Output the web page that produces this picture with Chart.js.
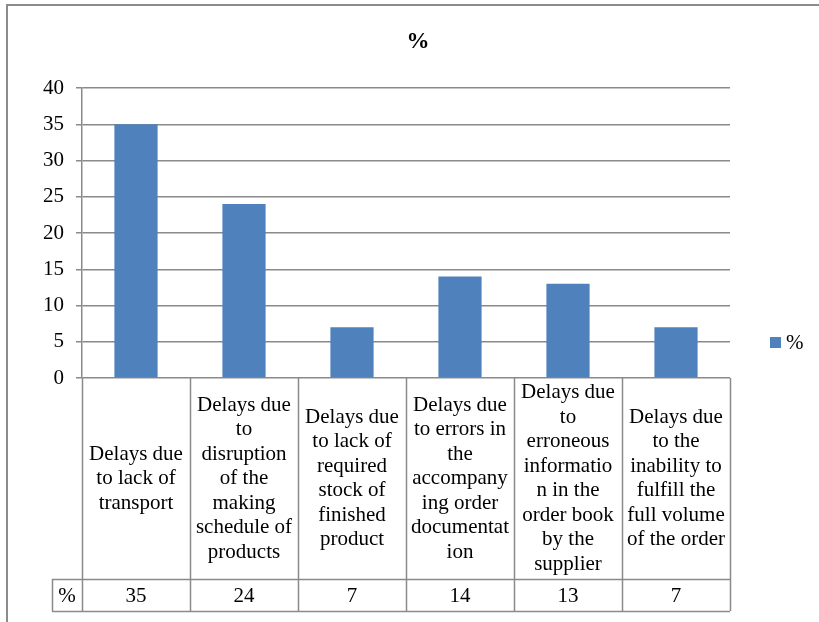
<!DOCTYPE html>
<html>
<head>
<meta charset="utf-8">
<script src="https://cdn.jsdelivr.net/npm/chart.js@4.4.1/dist/chart.umd.min.js"></script>
<style>
  html, body { margin: 0; padding: 0; background: #ffffff; }
  #wrap { width: 819px; height: 622px; position: relative; }
</style>
</head>
<body>
<div id="wrap"><canvas id="c" width="819" height="622"></canvas></div>
<script>
// ---- data ----
const categories = [
  ["Delays due", "to lack of", "transport"],
  ["Delays due", "to", "disruption", "of the", "making", "schedule of", "products"],
  ["Delays due", "to lack of", "required", "stock of", "finished", "product"],
  ["Delays due", "to errors in", "the", "accompany", "ing order", "documentat", "ion"],
  ["Delays due", "to", "erroneous", "informatio", "n in the", "order book", "by the", "supplier"],
  ["Delays due", "to the", "inability to", "fulfill the", "full volume", "of the order"]
];
const seriesName = "%";
const values = [35, 24, 7, 14, 13, 7];
const yTicks = [0, 5, 10, 15, 20, 25, 30, 35, 40];
const chartTitle = "%";

const FONT = "'Liberation Serif', 'Times New Roman', serif";
const BAR = "#4F81BD";
const GRID = "#8a8a8a";

const tablePlugin = {
  id: 'tablePlugin',
  beforeDraw(chart) {
    const ctx = chart.ctx;
    ctx.save();
    ctx.fillStyle = '#ffffff';
    ctx.fillRect(0, 0, chart.width, chart.height);
    ctx.strokeStyle = '#8c8c8c';
    ctx.lineWidth = 2;
    ctx.beginPath();
    ctx.moveTo(7, chart.height + 2);
    ctx.lineTo(7, 5);
    ctx.lineTo(chart.width + 2, 5);
    ctx.stroke();
    ctx.restore();
  },
  afterDraw(chart) {
    const ctx = chart.ctx;
    const xs = chart.scales.x;
    const ca = chart.chartArea;
    const n = categories.length;
    const cw = (ca.right - ca.left) / n;
    const top = ca.bottom;
    const rowSplit = 579;
    const bottom = 611;
    const headLeft = 52;
    ctx.save();
    // title
    ctx.fillStyle = '#000000';
    ctx.font = 'bold 23px ' + FONT;
    ctx.textAlign = 'center';
    ctx.textBaseline = 'middle';
    ctx.fillText(chartTitle, 418, 42);

    ctx.strokeStyle = GRID;
    ctx.lineWidth = 1.5;
    ctx.beginPath();
    for (let i = 0; i <= n; i++) {
      const x = Math.round(ca.left + i * cw) + 0.5;
      ctx.moveTo(x, top);
      ctx.lineTo(x, bottom);
    }
    ctx.moveTo(headLeft, rowSplit + 0.5);
    ctx.lineTo(ca.right, rowSplit + 0.5);
    ctx.moveTo(headLeft, bottom + 0.5);
    ctx.lineTo(ca.right, bottom + 0.5);
    ctx.moveTo(headLeft + 0.5, rowSplit);
    ctx.lineTo(headLeft + 0.5, bottom);
    ctx.stroke();

    ctx.fillStyle = '#000000';
    ctx.font = '21px ' + FONT;
    const lh = 24.5;
    const midY = (top + rowSplit) / 2;
    for (let i = 0; i < n; i++) {
      const cx = xs.getPixelForValue(i);
      const lines = categories[i];
      const startY = midY - (lines.length - 1) * lh / 2;
      lines.forEach((t, k) => ctx.fillText(t, cx, startY + k * lh));
      ctx.fillText(String(values[i]), cx, (rowSplit + bottom) / 2 + 1);
    }
    ctx.fillText(seriesName, (headLeft + ca.left) / 2, (rowSplit + bottom) / 2 + 1);

    // legend
    ctx.fillStyle = BAR;
    ctx.fillRect(770, 337, 11, 11);
    ctx.fillStyle = '#000000';
    ctx.textAlign = 'left';
    ctx.fillText(seriesName, 786, 343);
    ctx.restore();
  }
};

new Chart(document.getElementById('c'), {
  type: 'bar',
  data: {
    labels: categories,
    datasets: [{
      label: seriesName,
      data: values,
      backgroundColor: BAR,
      borderWidth: 0,
      barPercentage: 0.4,
      categoryPercentage: 1.0
    }]
  },
  options: {
    responsive: false,
    animation: false,
    devicePixelRatio: 1,
    layout: { padding: { left: 0, right: 89, top: 88, bottom: 244 } },
    plugins: {
      legend: { display: false },
      tooltip: { enabled: false },
      title: { display: false }
    },
    scales: {
      x: {
        display: false,
        grid: { display: false }
      },
      y: {
        min: 0,
        max: 40,
        afterFit(scale) { scale.width = 82; },
        afterBuildTicks(scale) { scale.ticks = yTicks.map(v => ({ value: v })); },
        ticks: {
          color: '#000000',
          font: { family: FONT, size: 21 },
          padding: 12
        },
        grid: {
          color: GRID,
          lineWidth: 1.5,
          tickLength: 6,
          drawTicks: true
        },
        border: { color: GRID, width: 1.5 }
      }
    }
  },
  plugins: [tablePlugin]
});
</script>
</body>
</html>
